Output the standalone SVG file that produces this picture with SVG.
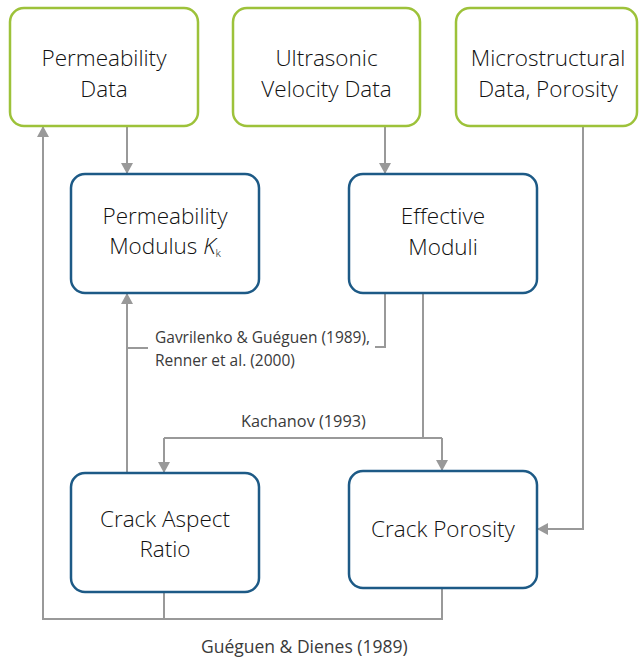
<svg xmlns="http://www.w3.org/2000/svg" width="639" height="660" viewBox="0 0 639 660">
<style>
.in{fill:#fff;stroke:#9dc23a;stroke-width:2.5}
.md{fill:#fff;stroke:#1d5a86;stroke-width:2.5}
.t{font-family:"Open Sans","Liberation Sans",sans-serif;font-size:22.5px;font-weight:300;fill:#111;text-anchor:middle}
.l{font-family:"Open Sans","Liberation Sans",sans-serif;font-size:15.5px;font-weight:400;fill:#3a3a3a}
.c{fill:none;stroke:#999;stroke-width:2}
</style>
<defs>
<marker id="a" markerUnits="userSpaceOnUse" viewBox="0 0 11 12" markerWidth="11" markerHeight="12" refX="11" refY="6" orient="auto">
<path d="M0,0 L11,6 L0,12 z" fill="#999"/>
</marker>
</defs>
<rect width="639" height="660" fill="#fff"/>
<g id="connectors">
<path class="c" d="M127,126 V174" marker-end="url(#a)"/>
<path class="c" d="M385,126 V174" marker-end="url(#a)"/>
<path class="c" d="M583,126 V529 H537" marker-end="url(#a)"/>
<path class="c" d="M385,293 V347 H375"/>
<path class="c" d="M127,473 V293" marker-end="url(#a)"/>
<path class="c" d="M127,348 H148"/>
<path class="c" d="M423,293 V438"/>
<path class="c" d="M164,438 H442"/>
<path class="c" d="M164,438 V473" marker-end="url(#a)"/>
<path class="c" d="M442,438 V471" marker-end="url(#a)"/>
<path class="c" d="M164,592 V619"/>
<path class="c" d="M442,588 V619 H43 V126" marker-end="url(#a)"/>
<text class="l" x="155" y="343">Gavrilenko &amp; Guéguen (1989),</text>
<text class="l" x="155" y="366">Renner et al. (2000)</text>
<text class="l" x="241" y="427" style="font-size:16.3px">Kachanov (1993)</text>
<text class="l" x="201" y="653" style="font-size:17.5px">Guéguen &amp; Dienes (1989)</text>
</g>
<g id="perm-data">
<rect class="in" x="10" y="8" width="188" height="118" rx="14"/>
<text class="t" x="104" y="66">Permeability</text>
<text class="t" x="104" y="97">Data</text>
</g>
<g id="ultra-data">
<rect class="in" x="233" y="8" width="187" height="118" rx="14"/>
<text class="t" x="326.5" y="66">Ultrasonic</text>
<text class="t" x="326.5" y="97">Velocity Data</text>
</g>
<g id="micro-data">
<rect class="in" x="456" y="8" width="181" height="118" rx="14"/>
<text class="t" x="548" y="66">Microstructural</text>
<text class="t" x="548" y="97">Data, Porosity</text>
</g>
<g id="perm-modulus">
<rect class="md" x="71" y="174" width="188" height="119" rx="14"/>
<text class="t" x="165" y="224">Permeability</text>
<text class="t" x="165" y="254">Modulus <tspan font-style="italic">K</tspan><tspan style="font-size:11px" dy="3">k</tspan></text>
</g>
<g id="effective-moduli">
<rect class="md" x="349" y="174" width="188" height="119" rx="14"/>
<text class="t" x="443" y="224">Effective</text>
<text class="t" x="443" y="255">Moduli</text>
</g>
<g id="crack-aspect">
<rect class="md" x="71" y="473" width="188" height="119" rx="14"/>
<text class="t" x="165" y="527">Crack Aspect</text>
<text class="t" x="165" y="557">Ratio</text>
</g>
<g id="crack-porosity">
<rect class="md" x="349" y="471" width="188" height="117" rx="14"/>
<text class="t" x="443" y="537">Crack Porosity</text>
</g>
</svg>
